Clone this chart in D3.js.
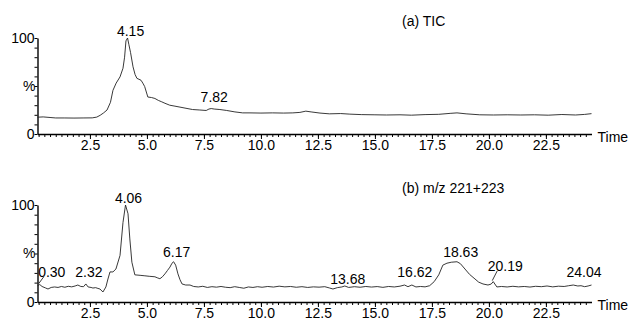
<!DOCTYPE html>
<html>
<head>
<meta charset="utf-8">
<script src="https://cdn.jsdelivr.net/npm/d3@7"></script>
<style>
  body { margin: 0; background: #fff; }
  svg text { font-family: "Liberation Sans", Arial, sans-serif; font-size: 14px; fill: #000; }
</style>
</head>
<body>
<div id="chart"></div>
<script>
// retention time (min) and relative intensity (%)
var timesA = [0.20, 0.45, 0.75, 1.00, 1.40, 1.80, 2.20, 2.60, 2.80, 2.95,
              3.10, 3.25, 3.40, 3.51, 3.65, 3.82, 3.95, 4.02, 4.08, 4.15,
              4.21, 4.28, 4.39, 4.48, 4.56, 4.65, 4.74, 4.82, 4.90, 5.04,
              5.20, 5.35, 5.50, 5.65, 5.79, 6.00, 6.23, 6.45, 6.67, 7.00,
              7.32, 7.60, 7.72, 7.82, 7.95, 8.20, 8.50, 8.86, 9.20, 9.52,
              10.0, 10.5, 11.0, 11.4, 11.71, 11.97, 12.20, 12.59, 13.0, 13.5,
              13.9, 14.4, 15.0, 15.5, 16.1, 16.6, 17.2, 17.8, 18.3, 18.6,
              19.0, 19.6, 20.2, 20.8, 21.4, 22.0, 22.6, 23.2, 23.8, 24.2,
              24.5];
var valuesA = [17.5, 17.8, 17.2, 16.7, 16.7, 16.6, 16.7, 16.8, 17.6, 19.5,
               22.0, 25.0, 33.0, 45.5, 53.0, 59.5, 68.5, 80.0, 97.0, 100,
               93.0, 85.0, 70.0, 62.0, 58.0, 57.0, 56.0, 53.0, 49.5, 38.5,
               38.0, 37.0, 35.0, 33.5, 32.0, 30.0, 29.0, 28.0, 27.0, 25.5,
               25.0, 24.5, 26.0, 26.5, 26.0, 25.5, 24.5, 23.0, 22.0, 22.0,
               21.8, 22.0, 21.8, 22.0, 22.5, 23.8, 23.0, 21.8, 21.0, 21.3,
               20.7, 20.2, 20.0, 19.8, 20.0, 19.6, 20.2, 20.5, 21.5, 22.0,
               21.0, 20.0, 19.8, 20.0, 19.8, 20.0, 19.6, 20.3, 19.8, 20.4,
               21.2];

var timesB = [0.20, 0.30, 0.40, 0.55, 0.66, 0.80, 0.95, 1.10, 1.25, 1.40,
              1.55, 1.70, 1.85, 1.97, 2.10, 2.22, 2.32, 2.42, 2.55, 2.63,
              2.75, 2.85, 2.94, 3.07, 3.20, 3.29, 3.38, 3.51, 3.64, 3.82,
              3.95, 4.06, 4.17, 4.25, 4.34, 4.47, 4.70, 4.91, 5.10, 5.35,
              5.45, 5.57, 5.68, 5.79, 5.90, 6.01, 6.10, 6.17, 6.26, 6.36,
              6.45, 6.54, 6.70, 6.89, 7.05, 7.25, 7.45, 7.65, 7.85, 8.05,
              8.25, 8.45, 8.65, 8.85, 9.05, 9.25, 9.45, 9.65, 9.85, 10.05,
              10.3, 10.55, 10.8, 11.05, 11.3, 11.55, 11.8, 12.05, 12.3, 12.55,
              12.8, 13.0, 13.16, 13.35, 13.55, 13.68, 13.85, 14.1, 14.35, 14.6,
              14.85, 15.1, 15.35, 15.6, 15.85, 16.1, 16.3, 16.45, 16.62, 16.8,
              17.0, 17.2, 17.4, 17.6, 17.8, 17.98, 18.16, 18.35, 18.6, 18.75,
              18.95, 19.15, 19.39, 19.55, 19.74, 19.96, 20.1, 20.19, 20.35, 20.55,
              20.8, 21.05, 21.3, 21.55, 21.8, 22.05, 22.3, 22.55, 22.8, 23.05,
              23.3, 23.5, 23.7, 23.9, 24.04, 24.2, 24.35, 24.5];
var valuesB = [16.8, 18.0, 16.0, 14.5, 13.4, 15.0, 15.5, 15.0, 16.0, 15.2,
               16.2, 15.6, 16.5, 17.5, 16.0, 15.8, 18.6, 15.5, 15.0, 14.4,
               14.8, 14.0, 13.4, 10.3, 15.5, 23.7, 31.0, 31.0, 34.0, 48.0,
               82.0, 100, 91.0, 65.0, 41.0, 28.0, 27.5, 27.0, 26.5, 26.0,
               25.0, 24.0, 26.0, 29.0, 32.5, 36.0, 40.0, 41.5, 38.0, 29.0,
               23.0, 18.6, 17.5, 17.5, 16.0, 15.5, 16.2, 15.0, 15.8, 15.3,
               16.0, 15.2, 14.8, 15.8, 15.0, 14.2, 15.5, 15.0, 15.8, 15.2,
               16.0, 15.4, 16.3, 15.6, 16.0, 15.2, 15.8, 15.0, 15.6, 15.3,
               15.8, 14.5, 13.4, 14.8, 15.5, 16.5, 15.0, 15.8, 15.2, 16.0,
               15.4, 15.9, 15.1, 16.0, 15.5, 16.3, 17.5, 15.8, 17.5, 15.5,
               16.0, 15.6, 16.8, 21.0, 28.0, 38.0, 40.0, 41.0, 41.5, 39.5,
               34.0, 28.5, 23.7, 20.5, 18.6, 17.5, 18.5, 21.0, 15.5, 16.0,
               15.5, 16.2, 15.6, 16.0, 15.4, 16.2, 15.8, 16.5, 15.6, 16.3,
               16.0, 16.8, 17.5, 16.5, 16.8, 15.8, 16.5, 17.5];

// labelled peaks: time and the height (%) the label sits at
var peakTimesA = [4.15, 7.82];
var peakLevelsA = [100, 31];
var peakTimesB = [0.30, 2.32, 4.06, 6.17, 13.68, 16.62, 18.63, 20.19, 24.04];
var peakLevelsB = [24, 24, 100, 44, 16.5, 24, 44, 30, 24];
var leaderPeaksB = [0.30, 20.19];

var xTicks = [2.5, 5.0, 7.5, 10.0, 12.5, 15.0, 17.5, 20.0, 22.5];
var xMinorTicks = d3.range(0.25, 24.5, 0.25);
var yTicks = [0, 100];
var yMinorTicks = d3.range(10, 100, 10);
var xDomain = [0.2, 24.5];

var svg = d3.select("#chart").append("svg")
    .attr("width", 632)
    .attr("height", 324);

var xScale = d3.scaleLinear().domain(xDomain).range([37.5, 591.5]);

function drawPanel(top, bottom, times, values, title, peakTimes, peakLevels, leaders) {
    var yScale = d3.scaleLinear().domain([0, 100]).range([bottom, top]);

    // minor x ticks
    svg.append("g")
        .attr("transform", "translate(0," + bottom + ")")
        .call(d3.axisBottom(xScale).tickValues(xMinorTicks).tickSize(3).tickSizeOuter(0).tickFormat(""))
        .call(function (g) { g.select(".domain").remove(); });

    // major x ticks and the axis line
    var xNode = svg.append("g")
        .attr("transform", "translate(0," + bottom + ")")
        .call(d3.axisBottom(xScale).tickValues(xTicks).tickSize(5).tickSizeOuter(0).tickPadding(1)
            .tickFormat(d3.format(".1f")));
    xNode.select(".domain").attr("stroke-width", 1.6);
    xNode.selectAll("text").style("font-size", "14px").attr("font-family", null);

    // y axis
    svg.append("g")
        .attr("transform", "translate(" + xScale.range()[0] + ",0)")
        .call(d3.axisLeft(yScale).tickValues(yMinorTicks).tickSize(3).tickSizeOuter(0).tickFormat(""))
        .call(function (g) { g.select(".domain").remove(); });
    var yNode = svg.append("g")
        .attr("transform", "translate(" + xScale.range()[0] + ",0)")
        .call(d3.axisLeft(yScale).tickValues(yTicks).tickSize(3).tickSizeOuter(0).tickPadding(0));
    yNode.select(".domain").attr("stroke-width", 1.4);
    yNode.selectAll("text").style("font-size", "14px").attr("font-family", null);

    svg.append("text")
        .attr("x", xScale.range()[0] - 2)
        .attr("y", yScale(45))
        .attr("text-anchor", "end")
        .text("%");

    svg.append("text")
        .attr("x", xScale.range()[1] + 6)
        .attr("y", bottom + 8)
        .text("Time");

    svg.append("text")
        .attr("x", 402)
        .attr("y", top - 12)
        .text(title);

    // the trace
    var line = d3.line()
        .x(function (d, i) { return xScale(times[i]); })
        .y(function (d) { return yScale(d); });
    svg.append("path")
        .attr("d", line(values))
        .attr("fill", "none")
        .attr("stroke", "#222")
        .attr("stroke-width", 0.9);

    // peak labels
    peakTimes.forEach(function (t, i) {
        var x = xScale(t);
        var yLab = yScale(peakLevels[i]) - 2;
        if (leaders.indexOf(t) >= 0) {
            var v = values[times.indexOf(t)];
            svg.append("line")
                .attr("x1", x - 1).attr("y1", yScale(v) - 1)
                .attr("x2", x + 4).attr("y2", yLab)
                .attr("stroke", "#222").attr("stroke-width", 0.9);
            svg.append("text")
                .attr("x", x + 12).attr("y", yLab)
                .attr("text-anchor", "middle")
                .text(d3.format(".2f")(t));
        } else {
            svg.append("text")
                .attr("x", x + 3).attr("y", yLab)
                .attr("text-anchor", "middle")
                .text(d3.format(".2f")(t));
        }
    });
}

drawPanel(38, 134, timesA, valuesA, "(a) TIC", peakTimesA, peakLevelsA, []);
drawPanel(205, 302, timesB, valuesB, "(b) m/z 221+223", peakTimesB, peakLevelsB, leaderPeaksB);
</script>
</body>
</html>
